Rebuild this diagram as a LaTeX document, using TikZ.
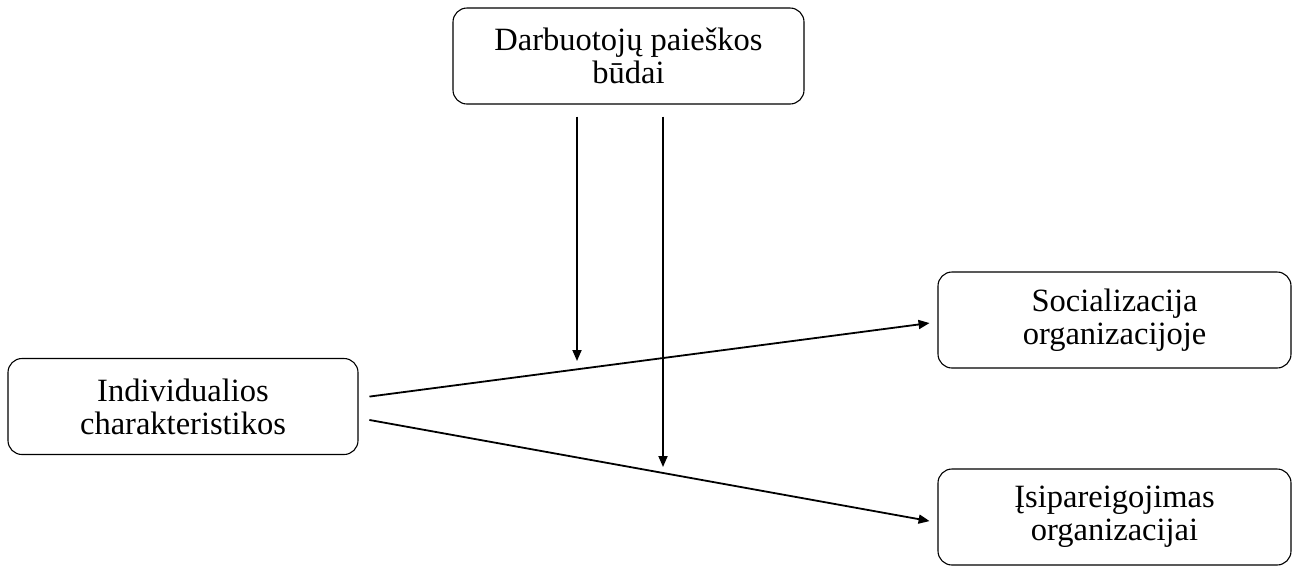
\documentclass[tikz,border=0pt]{standalone}
\usepackage{fontspec}
\setmainfont{Liberation Serif}
\usetikzlibrary{arrows.meta}
\begin{document}
\begin{tikzpicture}[x=1pt,y=-1pt,
  box/.style={draw, line width=1.1pt, rounded corners=14pt, align=center,
    minimum width=351pt, minimum height=96pt, inner sep=0pt,
    font=\fontsize{32.5}{33}\selectfont},
  arr/.style={line width=1.8pt, -{Triangle[length=11pt,width=9pt]}}]
\useasboundingbox (0,0) rectangle (1300,566);

\node[box] (top) at (628.5,56) {Darbuotojų paieškos\\būdai};
\node[box, minimum width=350pt] (ind) at (183,406.5) {Individualios\\charakteristikos};
\node[box, minimum width=353pt] (soc) at (1114.5,320) {Socializacija\\organizacijoje};
\node[box, minimum width=353pt] (com) at (1114.5,517) {Įsipareigojimas\\organizacijai};

\coordinate (m1) at (577,361);
\coordinate (m2) at (663,467);

\draw[arr, shorten <=11pt, shorten >=8pt] ([yshift=8.5pt]ind.east) -- ([yshift=-2pt]soc.west);
\draw[arr, shorten <=11pt, shorten >=8pt] ([yshift=-11.5pt]ind.east) -- ([yshift=-5.5pt]com.west);
\draw[arr, shorten <=12pt] (top.south -| m1) -- (m1);
\draw[arr, shorten <=12pt] (top.south -| m2) -- (m2);
\end{tikzpicture}
\end{document}
